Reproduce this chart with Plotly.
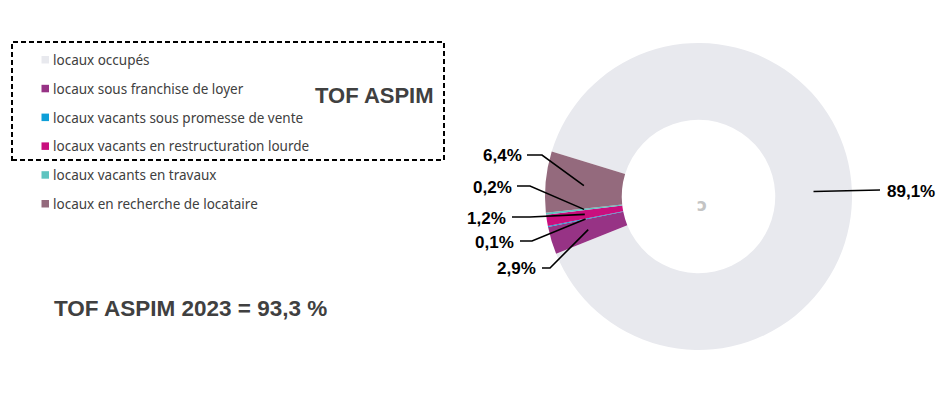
import math
import plotly.graph_objects as go

# ---- data ----
categories = [
    "locaux occupés",
    "locaux sous franchise de loyer",
    "locaux vacants sous promesse de vente",
    "locaux vacants en restructuration lourde",
    "locaux vacants en travaux",
    "locaux en recherche de locataire",
]
values = [89.1, 2.9, 0.1, 1.2, 0.2, 6.4]
colors = ["#E8E9EE", "#973385", "#0E9FD8", "#C90F7E", "#5EC4C0", "#946A7D"]
title_box = "TOF ASPIM"
summary = "TOF ASPIM 2023 = 93,3 %"

W, H = 945, 398
CX, CY, R = 698.5, 196.5, 153.5
HOLE = 0.5
ROT = 287  # degrees, clockwise from 12 o'clock


def px(x):
    return x / W


def py(y):
    return 1 - y / H


fig = go.Figure()
fig.add_trace(go.Pie(
    labels=categories, values=values, sort=False, direction="clockwise",
    rotation=ROT, hole=HOLE, textinfo="none", hoverinfo="label+percent",
    marker=dict(colors=colors, line=dict(width=0)), showlegend=False,
    domain=dict(x=[px(CX - R), px(CX + R)], y=[py(CY + R), py(CY - R)]),
))

# leader-line anchor points: mid-angle of each slice, middle of the ring
total = sum(values)
anchors = []
acc = 0.0
for v in values:
    mid = ROT + (acc + v / 2) / total * 360
    acc += v
    rm = R * (1 + HOLE) / 2
    th = math.radians(mid)
    anchors.append((CX + rm * math.sin(th), CY - rm * math.cos(th)))

# label layout: (text x, text y, anchor side, elbow points)
label_layout = [
    (885, 191, "left", [(880, 190)]),
    (538, 268, "right", [(542, 268), (550, 268)]),
    (516, 242, "right", [(520, 241), (532, 241)]),
    (508, 218, "right", [(512, 217), (530, 217)]),
    (514, 187, "right", [(517, 186), (530, 186)]),
    (524, 156, "right", [(527, 155), (542, 155)]),
]

def fmt(v):
    return f"{v:.1f}".replace(".", ",") + "%"

for v, (ax_, ay_), (tx, ty, side, elbow) in zip(values, anchors, label_layout):
    pts = elbow + [(ax_, ay_)]
    path = "M " + " L ".join(f"{px(x):.5f},{py(y):.5f}" for x, y in pts)
    fig.add_shape(type="path", path=path, xref="paper", yref="paper",
                  line=dict(color="black", width=1.6))
    fig.add_annotation(x=px(tx), y=py(ty), xref="paper", yref="paper",
                       text=f"<b>{fmt(v)}</b>", showarrow=False,
                       xanchor=side, yanchor="middle",
                       font=dict(family="Liberation Sans, Arial", size=17, color="black"))

# manual legend
for i, (c, lab) in enumerate(zip(colors, categories)):
    y = 60 + i * 28.8
    fig.add_shape(type="rect", xref="paper", yref="paper",
                  x0=px(41.5), x1=px(49), y0=py(y - 4), y1=py(y + 3.5),
                  fillcolor=c, line=dict(width=0))
    fig.add_annotation(x=px(51), y=py(y), xref="paper", yref="paper",
                       text=lab, showarrow=False, xanchor="left", yanchor="middle",
                       font=dict(family="Noto Sans, Open Sans", size=13.5, color="#404040"))

# dashed box
fig.add_shape(type="rect", xref="paper", yref="paper",
              x0=px(12), x1=px(444), y0=py(160), y1=py(42),
              line=dict(color="black", width=2, dash="5px,3px"))

fig.add_annotation(x=px(374), y=py(96), xref="paper", yref="paper",
                   text=f"<b>{title_box}</b>", showarrow=False,
                   xanchor="center", yanchor="middle",
                   font=dict(family="Liberation Sans, Arial", size=22, color="#404040"))
fig.add_annotation(x=px(52), y=py(308), xref="paper", yref="paper",
                   text=f"<b>{summary}</b>", showarrow=False,
                   xanchor="left", yanchor="middle",
                   font=dict(family="Liberation Sans, Arial", size=22.5, color="#404040"))

# faint blurred glyph in the centre
fig.add_annotation(x=px(702), y=py(205), xref="paper", yref="paper",
                   text="<b>ↄ</b>", showarrow=False, xanchor="center", yanchor="middle",
                   font=dict(family="DejaVu Sans", size=17, color="#C4C4C4"))

fig.update_layout(width=W, height=H, margin=dict(l=0, r=0, t=0, b=0),
                  paper_bgcolor="white", plot_bgcolor="white")
fig.write_html("out.html")
